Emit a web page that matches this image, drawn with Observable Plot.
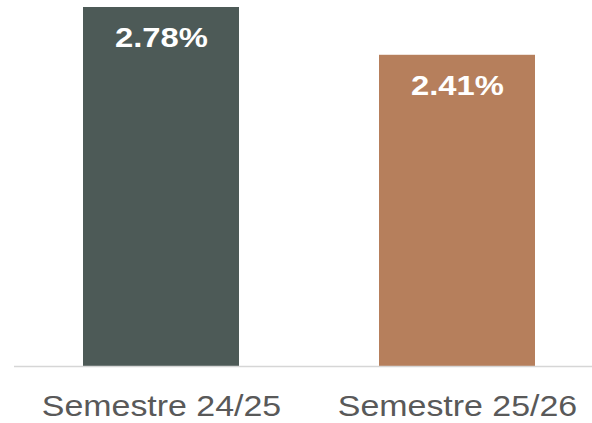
<!DOCTYPE html>
<html><head><meta charset="utf-8">
<script src="https://cdn.jsdelivr.net/npm/d3@7"></script>
<script src="https://cdn.jsdelivr.net/npm/@observablehq/plot@0.6"></script>
<style>
body{margin:0;background:#fff}
</style>
</head><body><div id="chart"></div>
<script>
const categories = ["Semestre 24/25", "Semestre 25/26"];
const values = [2.78, 2.41];
const labels = ["2.78%", "2.41%"];
const colors = ["#4d5a57", "#b67f5c"];
const data = categories.map((c, i) => ({category: c, value: values[i], label: labels[i]}));
const chart = Plot.plot({
  width: 592, height: 423, marginTop: 7, marginBottom: 57, marginLeft: 14, marginRight: 0,
  style: {fontFamily: "'Liberation Sans', Arial, sans-serif", background: "#fff", color: "#595959"},
  x: {domain: categories, range: [14, 604], paddingInner: 0.473, paddingOuter: 0.233, label: null},
  y: {domain: [0, d3.max(values)], axis: null},
  color: {domain: categories, range: colors},
  marks: [
    Plot.barY(data, {x: "category", y: "value", fill: "category"}),
    Plot.ruleY([0], {stroke: "#d6d6d6", strokeWidth: 1.5}),
    Plot.text(data, {x: "category", y: "value", text: "label", dy: 31, fill: "white", fontSize: 28, fontWeight: "bold", lineAnchor: "middle"}),
    Plot.axisX({tickSize: 0, tickPadding: 29, fontSize: 29, label: null})
  ]
});
// widen glyphs horizontally around each label's anchor
d3.select(chart).selectAll("text").each(function() {
  const x = this.getAttribute("x");
  let t = this.getAttribute("transform") || "";
  if (x !== null && !isNaN(+x)) {
    t += ` translate(${+x},0)`;
    this.removeAttribute("x");
  }
  this.setAttribute("transform", t + " scale(1.17,1)");
});
document.getElementById("chart").append(chart);
</script>
</body></html>
